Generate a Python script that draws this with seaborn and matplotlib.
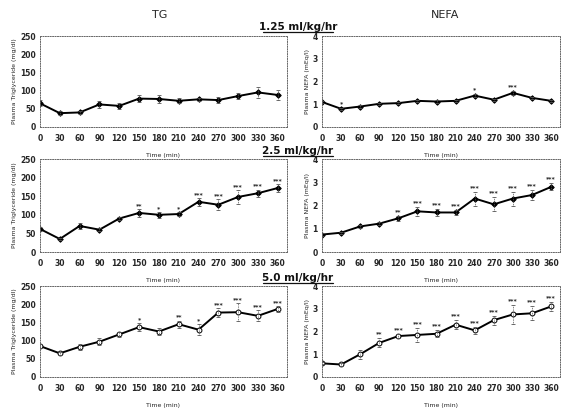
import matplotlib
matplotlib.use("Agg")
import matplotlib.pyplot as plt
import numpy as np
import pandas as pd
import seaborn as sns

sns.set_style("white")
plt.rcParams['font.family'] = ['DejaVu Sans']

times = [0, 30, 60, 90, 120, 150, 180, 210, 240, 270, 300, 330, 360]
rates = ["1.25 ml/kg/hr", "2.5 ml/kg/hr", "5.0 ml/kg/hr"]

# TG (mg/dl)
tg_125 = [65, 38, 40, 62, 58, 78, 77, 72, 76, 74, 85, 95, 88]
tg_125_err = [8, 6, 5, 10, 8, 10, 12, 7, 5, 8, 8, 15, 15]
tg_125_sig = ["", "", "", "", "", "", "", "", "", "", "", "", ""]

tg_25 = [62, 35, 70, 60, 90, 105, 100, 102, 135, 127, 148, 158, 172]
tg_25_err = [5, 3, 8, 4, 5, 10, 8, 6, 10, 15, 18, 10, 10]
tg_25_sig = ["", "", "", "", "", "**", "*", "*", "***", "***", "***", "***", "***"]

tg_50 = [85, 65, 83, 97, 117, 137, 125, 145, 130, 177, 178, 168, 187]
tg_50_err = [5, 5, 8, 10, 8, 10, 10, 10, 15, 12, 25, 15, 8]
tg_50_sig = ["", "", "", "", "", "*", "", "**", "*", "***", "***", "***", "***"]

# NEFA (mEq/l)
nefa_125 = [1.1, 0.8, 0.9, 1.02, 1.05, 1.15, 1.12, 1.15, 1.38, 1.2, 1.5, 1.28, 1.15]
nefa_125_err = [0.05, 0.05, 0.05, 0.05, 0.05, 0.05, 0.05, 0.05, 0.08, 0.05, 0.08, 0.05, 0.05]
nefa_125_sig = ["", "*", "", "", "", "", "", "", "*", "", "***", "", ""]

nefa_25 = [0.75, 0.83, 1.1, 1.22, 1.45, 1.75, 1.7, 1.7, 2.3, 2.05, 2.3, 2.45, 2.8]
nefa_25_err = [0.05, 0.05, 0.08, 0.08, 0.1, 0.2, 0.15, 0.1, 0.3, 0.3, 0.3, 0.2, 0.15]
nefa_25_sig = ["", "", "", "", "**", "***", "***", "***", "***", "***", "***", "***", "***"]

nefa_50 = [0.6, 0.55, 1.0, 1.5, 1.8, 1.85, 1.9, 2.3, 2.05, 2.5, 2.75, 2.8, 3.1]
nefa_50_err = [0.05, 0.05, 0.2, 0.2, 0.1, 0.3, 0.15, 0.2, 0.15, 0.2, 0.4, 0.3, 0.2]
nefa_50_sig = ["", "", "", "**", "***", "***", "***", "***", "***", "***", "***", "***", "***"]

tg_sets = [(tg_125, tg_125_err, tg_125_sig), (tg_25, tg_25_err, tg_25_sig), (tg_50, tg_50_err, tg_50_sig)]
nefa_sets = [(nefa_125, nefa_125_err, nefa_125_sig), (nefa_25, nefa_25_err, nefa_25_sig),
             (nefa_50, nefa_50_err, nefa_50_sig)]

fig = plt.figure(figsize=(5.61, 4.08), dpi=100)

rows_top = [36, 159, 286]
rows_bot = [127, 252, 377]
W, H = 561.0, 408.0


def panel(x0, x1, row, vals, errs, sigs, ymax, yticks, ylabel, open_marker, err_off):
    top, bot = rows_top[row], rows_bot[row]
    ax = fig.add_axes([x0 / W, 1 - bot / H, (x1 - x0) / W, (bot - top) / H])
    df = pd.DataFrame({"Time": times, "Value": vals})
    sns.lineplot(data=df, x="Time", y="Value", ax=ax, color="black", lw=1.4,
                 marker="o" if open_marker else "D",
                 markersize=3.5 if open_marker else 2.8,
                 markerfacecolor="white" if open_marker else "black",
                 markeredgecolor="black", markeredgewidth=0.7)
    eb = ax.errorbar(times, vals, yerr=errs, fmt="none", ecolor="#555555",
                     elinewidth=0.6, capsize=1.2, capthick=0.6)
    for c in eb[2]:
        c.set_linestyle((0, (1, 1)))
    for t, v, e, s in zip(times, vals, errs, sigs):
        if s:
            ax.text(t, v + e + err_off, s, ha="center", va="bottom",
                    fontsize=4.5, fontweight="bold")
    ax.set_xlim(0, 374)
    ax.set_ylim(0, ymax)
    ax.set_xticks(times)
    ax.set_yticks(yticks)
    ax.tick_params(axis="x", length=0, pad=5, labelsize=5.5)
    ax.tick_params(axis="y", length=0, pad=3, labelsize=5.5)
    for lab in ax.get_xticklabels() + ax.get_yticklabels():
        lab.set_fontweight("bold")
    ax.set_ylabel(ylabel, fontsize=4.5, labelpad=2)
    ax.set_xlabel("Time (min)", fontsize=4.5, labelpad=7)
    for sp in ax.spines.values():
        sp.set_linestyle((0, (1, 1.5)))
        sp.set_linewidth(0.7)
        sp.set_color("#666666")
    return ax


for r in range(3):
    v, e, s = tg_sets[r]
    panel(40, 287, r, v, e, s, 250, [0, 50, 100, 150, 200, 250],
          "Plasma Triglyceride (mg/dl)", r == 2, 3)
    v, e, s = nefa_sets[r]
    panel(322, 560, r, v, e, s, 4, [0, 1, 2, 3, 4],
          "Plasma NEFA (mEq/l)", r == 2, 0.08)

fig.text(160 / W, 1 - 15 / H, "TG", ha="center", va="center", fontsize=8)
fig.text(445 / W, 1 - 15 / H, "NEFA", ha="center", va="center", fontsize=8)

label_y = [27, 151, 278]
for lab, y in zip(rates, label_y):
    fig.text(298 / W, 1 - y / H, lab, ha="center", va="center", fontsize=7.5,
             fontweight="bold", color="#111111")
    fig.add_artist(plt.Line2D([263 / W, 333 / W], [1 - (y + 5) / H, 1 - (y + 5) / H],
                              color="#111111", lw=0.9, transform=fig.transFigure))

fig.savefig("out.png", dpi=100)
